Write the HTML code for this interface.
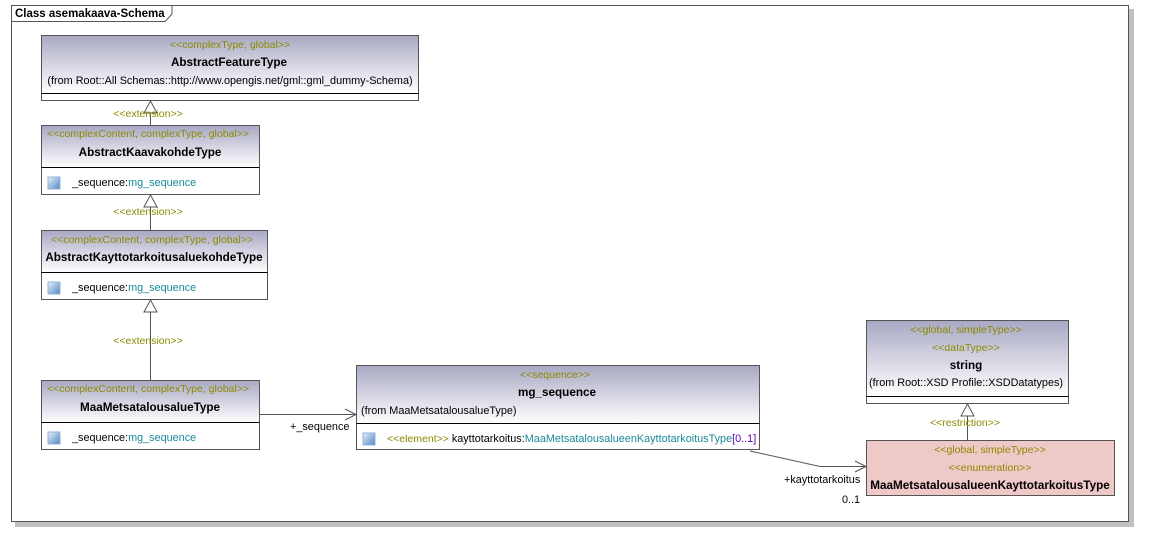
<!DOCTYPE html>
<html><head><meta charset="utf-8"><style>
html,body{margin:0;padding:0;background:#fff;width:1155px;height:542px;overflow:hidden}
svg text{font-family:"Liberation Sans",sans-serif;font-size:10.85px}
.s{fill:#8a8a00;font-size:10.5px}.b{font-weight:bold;fill:#000;font-size:11.7px}.t{fill:#1a8a99}.k{fill:#000}
</style></head><body>
<svg width="1155" height="542" xmlns="http://www.w3.org/2000/svg">
<defs>
<linearGradient id="g" x1="0" y1="0" x2="0" y2="1"><stop offset="0" stop-color="#a8a8c4"/><stop offset="1" stop-color="#ffffff"/></linearGradient>
<linearGradient id="ic" x1="0" y1="0" x2="1" y2="1"><stop offset="0" stop-color="#e8f2fb"/><stop offset="1" stop-color="#4f86c0"/></linearGradient>
</defs>
<rect x="15" y="9" width="1119" height="518" fill="#c0c0c0"/>
<rect x="11.5" y="5.5" width="1117" height="516" fill="#fff" stroke="#555"/>
<path d="M11.5 21.5 H165 L172 14 V5.5" fill="none" stroke="#555"/>
<text x="15" y="17" class="k" style="font-weight:bold;font-size:11.5px">Class asemakaava-Schema</text>

<rect x="41.5" y="35.5" width="377" height="57" fill="url(#g)"/>
<rect x="41.5" y="35.5" width="377" height="65" fill="none" stroke="#555"/>
<line x1="41.5" y1="93.5" x2="418.5" y2="93.5" stroke="#000"/>
<text x="230" y="48" text-anchor="middle" class="s">&lt;&lt;complexType, global&gt;&gt;</text>
<text x="229" y="66" text-anchor="middle" class="b">AbstractFeatureType</text>
<text x="230" y="84" text-anchor="middle" class="k">(from Root::All Schemas::http://www.opengis.net/gml::gml_dummy-Schema)</text>

<line x1="150.5" y1="101" x2="150.5" y2="125" stroke="#555"/>
<path d="M144 113 L150.5 101 L157 113 Z" fill="#fff" stroke="#555"/>
<text x="148" y="117" text-anchor="middle" class="s">&lt;&lt;extension&gt;&gt;</text>

<rect x="41.5" y="125.5" width="218" height="42" fill="url(#g)"/>
<rect x="41.5" y="125.5" width="218" height="69" fill="none" stroke="#555"/>
<line x1="41.5" y1="167.5" x2="259.5" y2="167.5" stroke="#000"/>
<text x="148" y="137" text-anchor="middle" class="s">&lt;&lt;complexContent, complexType, global&gt;&gt;</text>
<text x="150" y="156" text-anchor="middle" class="b">AbstractKaavakohdeType</text>
<rect x="48" y="177" width="12" height="12" fill="url(#ic)" stroke="#8fb0d8"/>
<text x="72" y="186"><tspan class="k">_sequence:</tspan><tspan class="t">mg_sequence</tspan></text>

<line x1="150.5" y1="195" x2="150.5" y2="230" stroke="#555"/>
<path d="M144 207 L150.5 195 L157 207 Z" fill="#fff" stroke="#555"/>
<text x="148" y="215" text-anchor="middle" class="s">&lt;&lt;extension&gt;&gt;</text>

<rect x="41.5" y="230.5" width="226" height="42" fill="url(#g)"/>
<rect x="41.5" y="230.5" width="226" height="69" fill="none" stroke="#555"/>
<line x1="41.5" y1="272.5" x2="267.5" y2="272.5" stroke="#000"/>
<text x="152" y="243" text-anchor="middle" class="s">&lt;&lt;complexContent, complexType, global&gt;&gt;</text>
<text x="154" y="261" text-anchor="middle" class="b">AbstractKayttotarkoitusaluekohdeType</text>
<rect x="48" y="282" width="12" height="12" fill="url(#ic)" stroke="#8fb0d8"/>
<text x="72" y="291"><tspan class="k">_sequence:</tspan><tspan class="t">mg_sequence</tspan></text>

<line x1="150.5" y1="300" x2="150.5" y2="380" stroke="#555"/>
<path d="M144 312 L150.5 300 L157 312 Z" fill="#fff" stroke="#555"/>
<text x="148" y="344" text-anchor="middle" class="s">&lt;&lt;extension&gt;&gt;</text>

<rect x="41.5" y="380.5" width="218" height="42" fill="url(#g)"/>
<rect x="41.5" y="380.5" width="218" height="69" fill="none" stroke="#555"/>
<line x1="41.5" y1="422.5" x2="259.5" y2="422.5" stroke="#000"/>
<text x="148" y="392" text-anchor="middle" class="s">&lt;&lt;complexContent, complexType, global&gt;&gt;</text>
<text x="150" y="411" text-anchor="middle" class="b">MaaMetsatalousalueType</text>
<rect x="48" y="432" width="12" height="12" fill="url(#ic)" stroke="#8fb0d8"/>
<text x="72" y="441"><tspan class="k">_sequence:</tspan><tspan class="t">mg_sequence</tspan></text>

<line x1="260" y1="414.5" x2="356" y2="414.5" stroke="#555"/>
<path d="M345 409 L356 414.5 L345 420" fill="none" stroke="#555"/>
<text x="290" y="430" class="k">+_sequence</text>

<rect x="356.5" y="365.5" width="403" height="58" fill="url(#g)"/>
<rect x="356.5" y="365.5" width="403" height="84" fill="none" stroke="#555"/>
<line x1="356.5" y1="423.5" x2="759.5" y2="423.5" stroke="#000"/>
<text x="555" y="378" text-anchor="middle" class="s">&lt;&lt;sequence&gt;&gt;</text>
<text x="557" y="396" text-anchor="middle" class="b">mg_sequence</text>
<text x="361" y="414" class="k">(from MaaMetsatalousalueType)</text>
<rect x="363" y="433" width="12" height="12" fill="url(#ic)" stroke="#8fb0d8"/>
<text x="387" y="442"><tspan class="s">&lt;&lt;element&gt;&gt; </tspan><tspan class="k">kayttotarkoitus:</tspan><tspan class="t">MaaMetsatalousalueenKayttotarkoitusType</tspan><tspan fill="#5a00b0">[0..1]</tspan></text>

<path d="M750 451 L820 466.5 L866 466.5" fill="none" stroke="#555"/>
<path d="M855 461 L866 466.5 L855 472" fill="none" stroke="#555"/>
<text x="784" y="483" class="k">+kayttotarkoitus</text>
<text x="842" y="503" class="k">0..1</text>

<rect x="866.5" y="320.5" width="202" height="76" fill="url(#g)"/>
<rect x="866.5" y="320.5" width="202" height="83" fill="none" stroke="#555"/>
<line x1="866.5" y1="396.5" x2="1068.5" y2="396.5" stroke="#000"/>
<text x="966" y="333" text-anchor="middle" class="s">&lt;&lt;global, simpleType&gt;&gt;</text>
<text x="966" y="351" text-anchor="middle" class="s">&lt;&lt;dataType&gt;&gt;</text>
<text x="966" y="369" text-anchor="middle" class="b">string</text>
<text x="966" y="386" text-anchor="middle" class="k">(from Root::XSD Profile::XSDDatatypes)</text>

<line x1="967.5" y1="404" x2="967.5" y2="440" stroke="#555"/>
<path d="M961 416 L967.5 404 L974 416 Z" fill="#fff" stroke="#555"/>
<text x="965" y="426" text-anchor="middle" class="s">&lt;&lt;restriction&gt;&gt;</text>

<rect x="866.5" y="440.5" width="248" height="55" fill="#efc8c8" stroke="#555"/>
<text x="990" y="453" text-anchor="middle" class="s">&lt;&lt;global, simpleType&gt;&gt;</text>
<text x="990" y="471" text-anchor="middle" class="s">&lt;&lt;enumeration&gt;&gt;</text>
<text x="990" y="489" text-anchor="middle" class="b">MaaMetsatalousalueenKayttotarkoitusType</text>
</svg>
</body></html>
